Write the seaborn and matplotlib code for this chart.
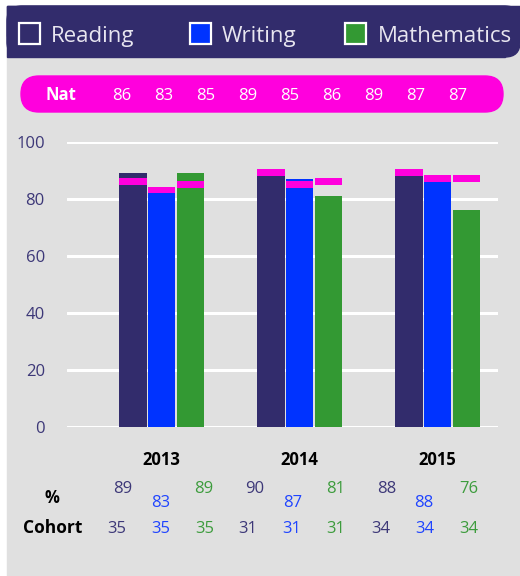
import matplotlib
matplotlib.use('Agg')
import matplotlib.pyplot as plt
from matplotlib.patches import Rectangle, FancyBboxPatch
from matplotlib.transforms import Affine2D
import seaborn as sns
import numpy as np
import pandas as pd

# data
years = ['2013', '2014', '2015']
subjects = ['Reading', 'Writing', 'Mathematics']
reading_pct = [89, 90, 88]
writing_pct = [83, 87, 88]
maths_pct = [89, 81, 76]
reading_nat = [86, 89, 89]
writing_nat = [83, 85, 87]
maths_nat = [85, 86, 87]
reading_cohort = [35, 31, 34]
writing_cohort = [35, 31, 34]
maths_cohort = [35, 31, 34]

NAVY = '#322c6c'
BLUE = '#0033ff'
GREEN = '#339933'
MAGENTA = '#ff00dd'
GREY = '#e0e0e0'
colours = [NAVY, BLUE, GREEN]
text_colours = ['#3d3878', '#1f44ff', '#3d9c3d']

W, H = 520, 576
sns.set_style('white')
plt.rcParams['font.family'] = ['Open Sans', 'DejaVu Sans']

fig = plt.figure(figsize=(W / 100, H / 100), dpi=100)
fig.patch.set_facecolor('white')
# pixel coords measured from the top left corner
px = Affine2D().scale(1, -1).translate(0, H).scale(1 / W, 1 / H) + fig.transFigure

# background and header
fig.patches.append(Rectangle((7, 6), W - 7, H - 6, color=GREY, transform=px, zorder=-3))
fig.patches.append(FancyBboxPatch((7, 6), W - 7, 51, boxstyle='round,pad=0,rounding_size=15',
                                  color=NAVY, transform=px, zorder=-2))
fig.patches.append(Rectangle((7, 6), W - 22, 51, color=NAVY, transform=px, zorder=-2))
fig.patches.append(Rectangle((7, 6), W - 7, 30, color=NAVY, transform=px, zorder=-2))

# legend in the header
for x_box, x_txt, name, c in zip([19, 190, 345], [51, 222, 378], subjects, colours):
    fig.patches.append(Rectangle((x_box, 23), 21, 21, facecolor=c, edgecolor='white', lw=1.6,
                                 transform=px, zorder=-1))
    fig.text(x_txt, 42, name, transform=px, color='#e8e6f0', fontsize=16,
             va='baseline', ha='left')

# national averages pill
fig.patches.append(FancyBboxPatch((21, 76), 482, 36, boxstyle='round,pad=0,rounding_size=18',
                                  color=MAGENTA, transform=px, zorder=-1))
fig.text(61, 100, 'Nat', transform=px, color='white', fontsize=12, fontweight='bold',
         ha='center', va='baseline')
nat_row = [v for trio in zip(reading_nat, writing_nat, maths_nat) for v in trio]
for i, v in enumerate(nat_row):
    fig.text(122 + 42 * i, 100, str(v), transform=px, color='white', fontsize=12,
             ha='center', va='baseline')

# bars
df = pd.DataFrame({
    'year': years * 3,
    'subject': np.repeat(subjects, 3),
    'pct': reading_pct + writing_pct + maths_pct,
})
ax = fig.add_axes([67 / W, 149 / H, 431 / W, 285.5 / H])
ax.set_zorder(5)
ax.set_facecolor('none')
sns.barplot(data=df, x='year', y='pct', hue='subject', hue_order=subjects, palette=colours,
            saturation=1, width=0.62, gap=0.05, linewidth=0, legend=False, ax=ax, zorder=2)

# national marker on top of each bar
for cont, nat in zip(ax.containers, [reading_nat, writing_nat, maths_nat]):
    xs = [b.get_x() + b.get_width() / 2 for b in cont]
    w = cont[0].get_width()
    ax.bar(xs, 2.4, bottom=np.array(nat) - 1.2, width=w, color=MAGENTA, lw=0, zorder=3)

ax.set_xlim(-0.685, 2.438)
ax.set_ylim(0, 100)
ax.set_yticks(range(0, 101, 20))
ax.yaxis.grid(True, color='white', lw=2.2, zorder=0)
ax.set_axisbelow(True)
ax.tick_params(axis='y', length=0, pad=16, labelsize=12, labelcolor='#3d3878')
ax.tick_params(axis='x', length=0, pad=17, labelsize=12, labelcolor='black')
for t in ax.get_xticklabels():
    t.set_fontweight('bold')
ax.set_xlabel('')
ax.set_ylabel('')
for s in ax.spines.values():
    s.set_visible(False)

# table under the chart
fig.text(52, 503, '%', transform=px, fontsize=12, fontweight='bold', ha='center',
         va='baseline', color='black')
fig.text(53, 533, 'Cohort', transform=px, fontsize=12.5, fontweight='bold', ha='center',
         va='baseline', color='black')
pct_x = [[123, 255, 387], [161, 293, 424], [204, 336, 469]]
pct_y = [493, 507, 493]
cohort_x = [[117, 248, 381], [161, 292, 425], [205, 336, 469]]
for k, (pcts, cohorts) in enumerate(zip([reading_pct, writing_pct, maths_pct],
                                        [reading_cohort, writing_cohort, maths_cohort])):
    for j in range(3):
        fig.text(pct_x[k][j], pct_y[k], str(pcts[j]), transform=px, color=text_colours[k],
                 fontsize=12, ha='center', va='baseline')
        fig.text(cohort_x[k][j], 533, str(cohorts[j]), transform=px, color=text_colours[k],
                 fontsize=12, ha='center', va='baseline')

fig.savefig('out.png', dpi=100)
